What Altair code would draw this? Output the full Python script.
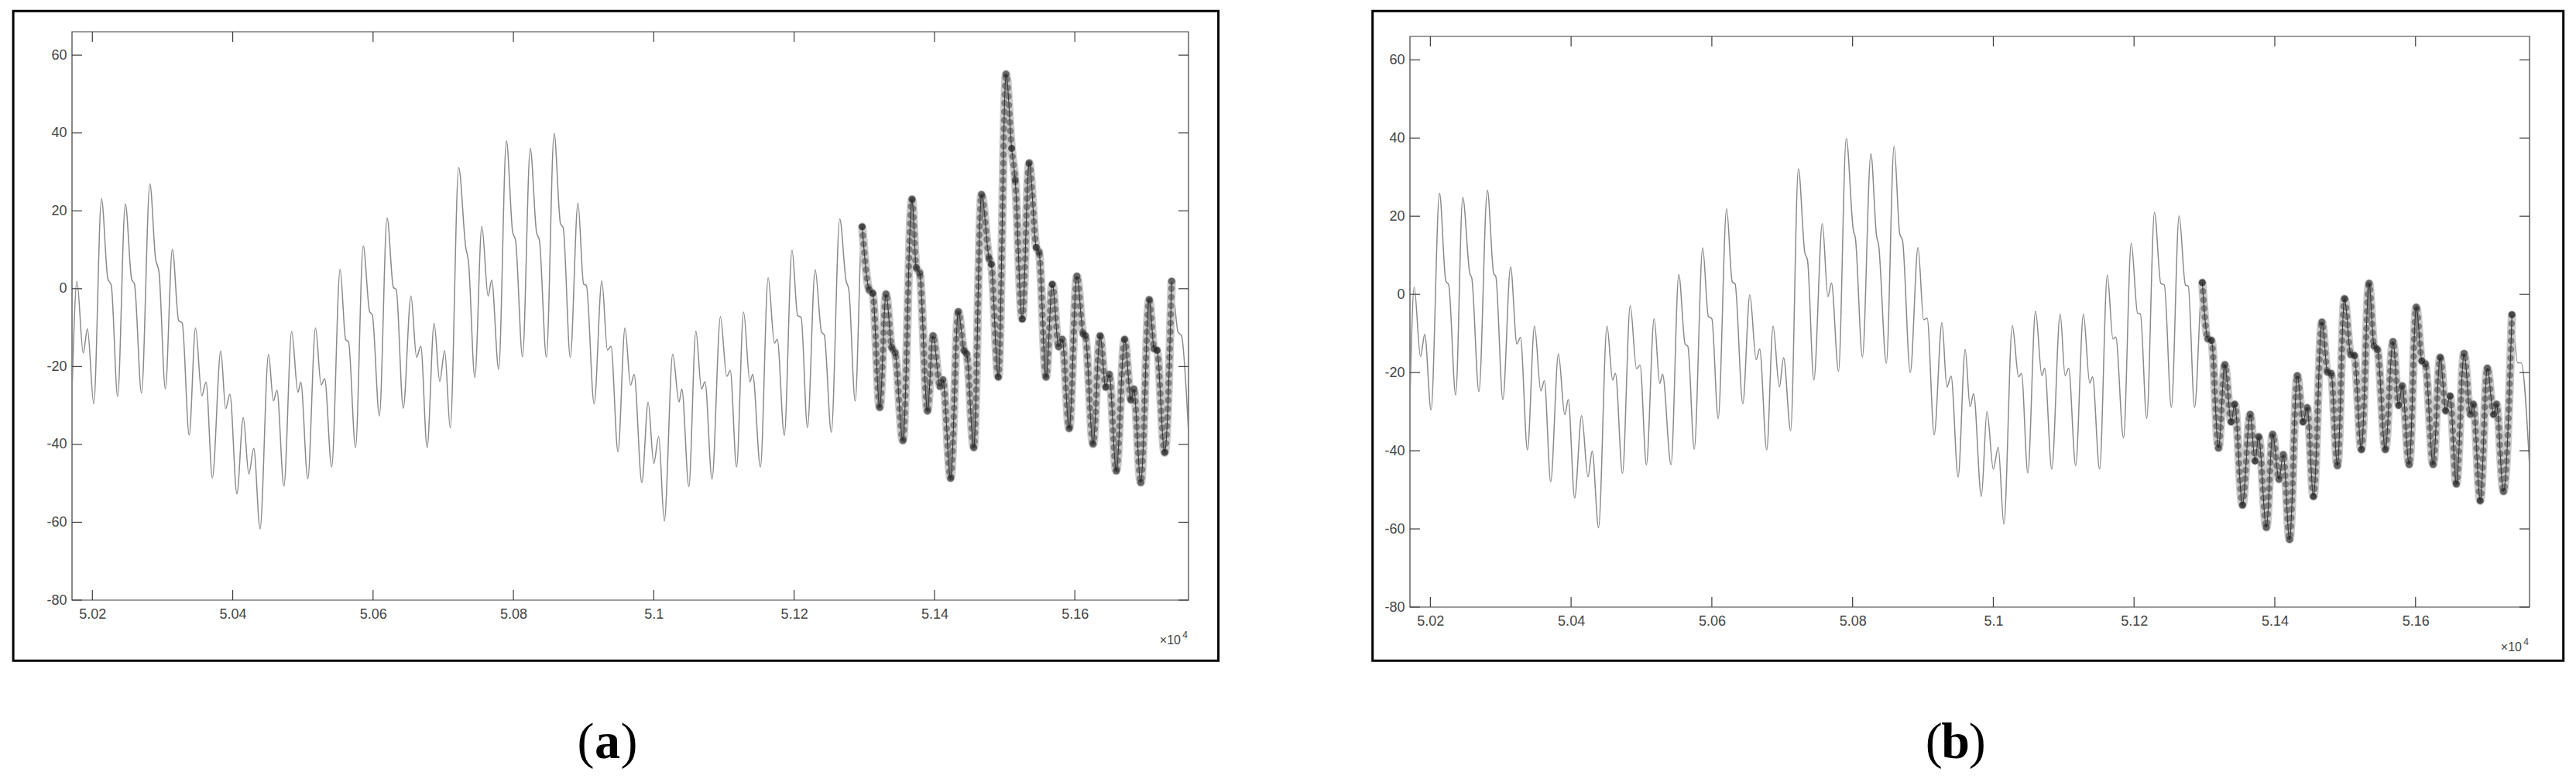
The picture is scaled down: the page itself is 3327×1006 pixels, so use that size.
import altair as alt
import pandas as pd

# ---------------- data (sample index, value) ----------------
A_X = [50171, 50178, 50187, 50193, 50202, 50213, 50222, 50227, 50236, 50247, 50256, 50260, 50270, 50282, 50290, 50295,
       50304, 50314, 50323, 50328, 50338, 50347, 50356, 50362, 50371, 50383, 50390, 50396, 50406, 50415, 50423, 50430,
       50439, 50451, 50458, 50463, 50473, 50484, 50493, 50497, 50507, 50518, 50526, 50531, 50541, 50553, 50561, 50565,
       50575, 50586, 50595, 50599, 50609, 50620, 50629, 50633, 50643, 50654, 50662, 50668, 50677, 50687, 50695, 50702,
       50710, 50722, 50732, 50736, 50745, 50755, 50764, 50769, 50779, 50790, 50799, 50803, 50813, 50824, 50833, 50837,
       50847, 50858, 50867, 50871, 50881, 50892, 50900, 50904, 50915, 50926, 50934, 50939, 50949, 50959, 50967, 50972,
       50983, 50992, 51000, 51007, 51015, 51027, 51036, 51040, 51050, 51060, 51068, 51073, 51083, 51095, 51104, 51109,
       51118, 51128, 51137, 51141, 51152, 51163, 51172, 51176, 51186, 51197, 51205, 51210, 51219, 51230, 51239, 51243,
       51253, 51265, 51274, 51278, 51287, 51297, 51307, 51312, 51322, 51331, 51339, 51344, 51355, 51368, 51374, 51379,
       51390, 51398, 51408, 51412, 51423, 51434, 51442, 51446, 51456, 51467, 51478, 51481, 51491, 51502, 51510, 51515,
       51525, 51535, 51545, 51549, 51559, 51568, 51577, 51582, 51592, 51603, 51612, 51615, 51626, 51636, 51644, 51649,
       51659, 51671, 51680, 51684, 51694, 51706, 51713, 51717, 51728, 51738, 51747, 51752, 51762]
A_Y = [-27, 1.9, -16.5, -10.3, -29.6, 23.1, 2.6, 0.8, -27.7, 21.8, 2.4, 1.2, -26.8, 26.9, 7.8, 4.2,
       -25.7, 10.1, -8.2, -8.8, -37.6, -10.1, -27.5, -24, -48.6, -16, -30.8, -27.1, -52.7, -33.1, -47.6, -41,
       -61.7, -16.9, -28.8, -26.1, -50.7, -11, -26.6, -24, -48.8, -10.1, -24.7, -23.1, -45.8, 5.0, -13.1, -13.6,
       -40.8, 11.0, -5.8, -6.8, -32.7, 18.2, 0.3, -0.2, -30.7, -1.9, -17.6, -14.8, -40.8, -8.9, -23.8, -15.9,
       -35.8, 31.1, 10.7, 6.9, -22.8, 16.0, -1.9, 2.2, -20.7, 38.0, 14.4, 12.5, -17.5, 36.0, 14.4, 12.5,
       -17.6, 39.9, 16.8, 15.6, -17.6, 22.0, 1.2, 0.8, -29.6, 2.0, -15.8, -14.8, -41.9, -10.1, -24.8, -22,
       -49.8, -29.2, -44.9, -38, -59.7, -16.8, -29.1, -25.8, -50.8, -10.9, -25.8, -23.9, -48.9, -7.2, -22.5, -21,
       -45.8, -6.0, -23.9, -22, -45.8, 2.8, -14, -13, -37.7, 9.9, -6.9, -7.4, -35.7, 4.9, -11.1, -11.9,
       -36.9, 17.9, 2.1, -0.3, -28.9, 15.9, -0.3, -1.2, -30.5, -1.4, -15.0, -16.5, -39.0, 23.0, 5.5, 4.0,
       -31.4, -12.1, -25.1, -23.4, -48.7, -5.9, -15.8, -16.8, -40.8, 24.2, 7.7, 6.3, -22.7, 55.1, 36.0, 28.0,
       -7.8, 32.3, 10.6, 9.4, -22.7, 1.1, -14.9, -13.0, -35.9, 3.2, -11.6, -12.1, -39.9, -12.1, -25.3, -22.0,
       -46.8, -13.0, -28.6, -25.8, -49.8, -2.8, -15.4, -15.8, -42.1, 1.9, -11.1, -12.1, -37]

B_X = [50171, 50177, 50186, 50192, 50201, 50213, 50222, 50226, 50236, 50246, 50256, 50259, 50269, 50281, 50290, 50293,
       50303, 50314, 50323, 50328, 50338, 50348, 50357, 50362, 50371, 50382, 50391, 50396, 50405, 50415, 50424, 50430,
       50439, 50451, 50459, 50463, 50473, 50484, 50493, 50498, 50507, 50518, 50526, 50530, 50542, 50553, 50562, 50566,
       50575, 50587, 50595, 50600, 50609, 50621, 50629, 50633, 50644, 50654, 50663, 50668, 50678, 50687, 50696, 50702,
       50712, 50723, 50732, 50736, 50745, 50757, 50765, 50770, 50780, 50791, 50801, 50804, 50814, 50826, 50834, 50837,
       50848, 50859, 50867, 50871, 50882, 50893, 50901, 50906, 50916, 50927, 50934, 50940, 50950, 50960, 50967, 50972,
       50983, 50991, 51000, 51007, 51015, 51027, 51036, 51040, 51049, 51060, 51069, 51073, 51083, 51095, 51102, 51107,
       51117, 51128, 51137, 51141, 51151, 51162, 51170, 51174, 51185, 51196, 51205, 51209, 51218, 51229, 51238, 51243,
       51253, 51264, 51273, 51277, 51286, 51297, 51305, 51310, 51320, 51329, 51338, 51343, 51354, 51365, 51372, 51377,
       51388, 51397, 51406, 51412, 51421, 51432, 51440, 51446, 51455, 51467, 51475, 51480, 51489, 51499, 51508, 51513,
       51523, 51534, 51541, 51546, 51557, 51568, 51576, 51581, 51591, 51601, 51609, 51614, 51625, 51635, 51643, 51649,
       51658, 51669, 51678, 51682, 51692, 51702, 51711, 51715, 51725, 51737, 51745, 51750, 51762]
B_Y = [-27, 1.8, -15.9, -10.2, -29.6, 25.9, 3.4, 2.5, -25.8, 24.8, 5.4, 4.0, -24.9, 26.7, 5.3, 4.6,
       -26.9, 7.0, -12.7, -11, -39.8, -8.1, -24.7, -22.1, -47.9, -15.2, -30.8, -26.9, -52.1, -31.0, -46.7, -40.1,
       -59.7, -8.1, -21.9, -20.2, -45.8, -2.9, -19.0, -18.1, -43.6, -6.2, -22.8, -20.4, -43.6, 5.1, -12.7, -13.3,
       -39.6, 11.9, -5.6, -6.2, -31.8, 21.9, 3.2, 2.7, -28.0, -0.1, -16.7, -14.0, -39.8, -8.1, -23.7, -16.2,
       -34.9, 32.1, 10.8, 8.7, -21.9, 18.1, -0.6, 2.9, -19.7, 39.9, 16.5, 14.4, -16.0, 36.0, 15.0, 12.7,
       -17.6, 37.9, 15.5, 13.8, -20.0, 12.0, -6.5, -6.1, -35.9, -7.2, -23.7, -20.9, -46.7, -14.1, -28.7, -25.4,
       -51.7, -30.0, -44.7, -39.1, -58.8, -8.0, -21.1, -20.2, -45.7, -4.3, -20.8, -18.9, -44.7, -5.0, -20.8, -18.9,
       -43.8, -5.0, -22.7, -21.1, -44.7, 5.0, -11.4, -10.9, -36.7, 13.1, -4.8, -5.0, -31.7, 21.0, 2.8, 2.4,
       -28.9, 20.1, 2.4, 2.1, -28.9, 3.0, -11.4, -11.8, -39.3, -18.0, -32.6, -28.1, -53.9, -30.7, -42.6, -36.4,
       -59.6, -35.8, -47.3, -41.0, -62.7, -20.8, -32.6, -29.0, -51.7, -7.1, -19.9, -20.2, -43.8, -1.1, -15.4, -15.6,
       -39.7, 2.8, -13.2, -14.2, -39.7, -12.1, -28.4, -23.4, -43.5, -3.3, -17.0, -17.8, -43.5, -16.1, -29.8, -26.0,
       -48.5, -15.1, -30.7, -28.1, -52.8, -18.9, -30.7, -28.1, -50.4, -5.2, -17.5, -17.5, -44]

HL_START = 51297
HL_END = 51738
X_TICKS = [50200, 50400, 50600, 50800, 51000, 51200, 51400, 51600]
Y_TICKS = [-80, -60, -40, -20, 0, 20, 40, 60]
X_DOMAIN = [50171, 51762]
Y_DOMAIN = [-80, 66]
CAPTIONS = ["a", "b"]

AX_COLOR = "#3c3c3c"
LBL_COLOR = "#444444"
FONT = "Liberation Sans"


def make_panel(xs, ys, w, top, H, frame, letter, cap_x, cap_y):
    # view is H tall; the plot box itself runs from y=top to y=H
    df = pd.DataFrame({"x": xs, "y": ys})
    hl = df[(df["x"] >= HL_START) & (df["x"] <= HL_END)].reset_index(drop=True)
    sx = alt.Scale(domain=X_DOMAIN, nice=False, zero=False)
    sy = alt.Scale(domain=Y_DOMAIN, nice=False, zero=False, range=[H, top])
    X = alt.X("x:Q", scale=sx, title=None,
              axis=alt.Axis(values=X_TICKS, labelExpr="datum.value / 10000 + ''", ticks=False,
                            domain=False, grid=False, labelFont=FONT, labelFontSize=18,
                            labelColor=LBL_COLOR, labelPadding=9, labelFlush=False))
    Y = alt.Y("y:Q", scale=sy, title=None,
              axis=alt.Axis(values=Y_TICKS, labelExpr="datum.value + ''", ticks=False,
                            domain=False, grid=False, labelFont=FONT, labelFontSize=18,
                            labelColor=LBL_COLOR, labelPadding=7, labelFlush=False))

    one = pd.DataFrame({"k": [0]})
    box = alt.Chart(one).mark_rect(stroke=AX_COLOR, strokeWidth=1.2, fillOpacity=0).encode(
        x=alt.value(0), x2=alt.value(w), y=alt.value(top), y2=alt.value(H))

    base = alt.Chart(df).mark_line(color="#8a8a8a", strokeWidth=1.5, interpolate="monotone").encode(x=X, y=Y)
    band = alt.Chart(hl).mark_line(color="#cacaca", strokeWidth=11, interpolate="monotone",
                                   strokeCap="round", strokeJoin="round").encode(x=X, y=Y)
    dots = alt.Chart(hl).mark_line(color="#333333", strokeWidth=8.5, opacity=0.5, interpolate="monotone",
                                   strokeCap="round", strokeDash=[0.1, 11]).encode(x=X, y=Y)
    thin = alt.Chart(hl).mark_line(color="#333333", strokeWidth=1, interpolate="monotone").encode(x=X, y=Y)
    blobs = alt.Chart(hl).mark_circle(color="#222222", size=80, opacity=0.6).encode(x=X, y=Y)

    yt = pd.DataFrame({"y": Y_TICKS})
    xt = pd.DataFrame({"x": X_TICKS})
    tl = 13
    tick_l = alt.Chart(yt).mark_rule(color=AX_COLOR, strokeWidth=1.2).encode(y=Y, x=alt.value(0), x2=alt.value(tl))
    tick_r = alt.Chart(yt).mark_rule(color=AX_COLOR, strokeWidth=1.2).encode(y=Y, x=alt.value(w - tl), x2=alt.value(w))
    tick_b = alt.Chart(xt).mark_rule(color=AX_COLOR, strokeWidth=1.2).encode(x=X, y=alt.value(H - tl), y2=alt.value(H))
    tick_t = alt.Chart(xt).mark_rule(color=AX_COLOR, strokeWidth=1.2).encode(x=X, y=alt.value(top), y2=alt.value(top + tl))

    frame_mark = alt.Chart(one).mark_rect(stroke="black", strokeWidth=3, fillOpacity=0).encode(
        x=alt.value(frame[0]), x2=alt.value(frame[1]), y=alt.value(frame[2]), y2=alt.value(frame[3]))

    mult = alt.Chart(one).mark_text(font=FONT, fontSize=16, color=LBL_COLOR, align="right", baseline="alphabetic").encode(
        x=alt.value(w - 10), y=alt.value(H + 57), text=alt.value("×10"))
    sup = alt.Chart(one).mark_text(font=FONT, fontSize=12, color=LBL_COLOR, align="right", baseline="alphabetic").encode(
        x=alt.value(w - 1), y=alt.value(H + 49), text=alt.value("4"))

    cap_font = "Liberation Serif"
    cs = 66
    lp = alt.Chart(one).mark_text(font=cap_font, fontSize=cs, color="black", align="right", baseline="alphabetic").encode(
        x=alt.value(cap_x - 17), y=alt.value(cap_y), text=alt.value("("))
    lt = alt.Chart(one).mark_text(font=cap_font, fontSize=cs, fontWeight="bold", color="black", align="center",
                                  baseline="alphabetic").encode(x=alt.value(cap_x), y=alt.value(cap_y), text=alt.value(letter))
    rp = alt.Chart(one).mark_text(font=cap_font, fontSize=cs, color="black", align="left", baseline="alphabetic").encode(
        x=alt.value(cap_x + 17), y=alt.value(cap_y), text=alt.value(")"))

    return alt.layer(box, base, band, dots, thin, blobs, tick_l, tick_r, tick_b, tick_t,
                     frame_mark, mult, sup, lp, lt, rp).properties(width=w, height=H)


pa = make_panel(A_X, A_Y, 1442, 0, 734, (-75.9, 1480.6, -26.7, 812.3), CAPTIONS[0], 691.6, 938.3)
pb = make_panel(B_X, B_Y, 1446, 6, 743, (-48.3, 1489.7, -26.7, 812.3), CAPTIONS[1], 704.7, 938.3)

chart = alt.concat(pa, pb, columns=2, spacing=194, align="none").properties(
    padding={"left": 7, "top": 4, "right": 5, "bottom": 5}
).configure_view(stroke="transparent")

chart.save("out.html", embed_options={"renderer": "svg", "actions": False})
